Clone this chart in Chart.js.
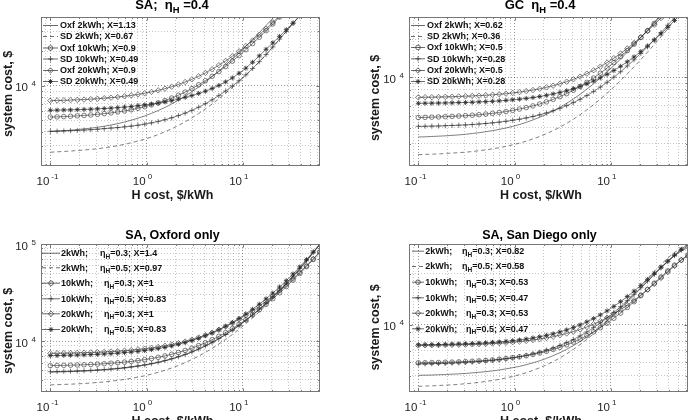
<!DOCTYPE html>
<html><head><meta charset="utf-8">
<script src="https://cdn.jsdelivr.net/npm/chart.js@4.4.1/dist/chart.umd.min.js"></script>
<style>
html,body{margin:0;padding:0;background:#fff;}
#wrap{position:relative;width:694px;height:420px;overflow:hidden;background:#fff;}
canvas{position:absolute;}
</style></head><body>
<div id="wrap">
<canvas id="c1" width="347" height="210" style="left:0;top:0"></canvas>
<canvas id="c2" width="347" height="210" style="left:347px;top:0"></canvas>
<canvas id="c3" width="347" height="210" style="left:0;top:210px"></canvas>
<canvas id="c4" width="347" height="210" style="left:347px;top:210px"></canvas>
</div>
<script>
// ---------- data ----------
const hCost = [0.1,0.1175,0.138,0.162,0.1905,0.224,0.263,0.309,0.363,0.427,0.501,0.589,0.692,0.813,0.955,1.122,1.318,1.549,1.82,2.138,2.512,2.951,3.467,4.074,4.786,5.623,6.607,7.762,9.12,10.72,12.59,14.79,17.38,20.42,23.99,28.18,33.11,38.9,45.71,53.7,63.1];

// Panel 1: SA; eta_H = 0.4
const sa_oxf2kwh = [4000,4030,4070,4110,4160,4220,4280,4360,4450,4560,4690,4840,5020,5230,5470,5760,6100,6490,6960,7510,8150,8910,9790,10840,12060,13500,15190,17180,19520,22270,25490,29270,33720,38950,45090];
const sa_sd2kwh = [2640,2660,2680,2700,2730,2760,2790,2830,2880,2940,3010,3090,3190,3300,3430,3580,3760,3980,4220,4520,4860,5270,5740,6300,6950,7720,8630,9690,10940,12410,14130,16200,18700,21800,25500,29900,35100,41100];
const sa_oxf10kwh = [5350,5370,5400,5440,5480,5530,5580,5650,5730,5820,5930,6050,6200,6380,6590,6830,7110,7450,7840,8300,8840,9480,10230,11110,12140,13350,14780,16460,18420,20740,23460,26650,30400,34810,39990,46060];
const sa_sd10kwh = [4020,4030,4050,4070,4090,4120,4150,4190,4240,4290,4330,4390,4460,4540,4640,4760,4900,5070,5270,5510,5790,6120,6520,7000,7560,8230,9030,9980,11100,12500,14200,16300,18800,21900,25600,30000,35200,41300];
const sa_oxf20kwh = [7440,7470,7490,7530,7570,7610,7670,7730,7810,7900,8000,8130,8270,8440,8640,8870,9150,9470,9850,10290,10820,11430,12150,13000,14000,15170,16550,18170,20070,22310,24930,28010,31630,35890,40890];
const sa_sd20kwh = [6130,6150,6170,6180,6210,6240,6270,6310,6350,6400,6470,6540,6620,6730,6840,6950,7080,7250,7440,7680,7950,8250,8600,9000,9500,10100,10850,11750,12900,14300,16100,18300,20900,23800,27100,31000,35400,40600,46500];

// Panel 2: GC eta_H = 0.4
const gc_oxf2kwh = [3390,3400,3420,3440,3460,3490,3520,3560,3610,3660,3730,3800,3890,3990,4110,4250,4420,4620,4850,5120,5440,5810,6250,6760,7370,8080,8920,9900,11050,12410,14000,15870,18070,20660,23690,27250,31440];
const gc_sd2kwh = [2460,2470,2480,2490,2510,2530,2550,2570,2600,2640,2680,2730,2790,2860,2940,3030,3140,3270,3420,3600,3810,4050,4340,4680,5080,5550,6100,6750,7510,8400,9450,10680,12130,13840,15830,18180,20940,24180,28000,32470];
const gc_oxf10kwh = [4830,4840,4860,4880,4900,4930,4960,4990,5030,5080,5140,5210,5290,5380,5500,5630,5780,5960,6170,6420,6710,7050,7450,7930,8480,9140,9900,10800,11860,13110,14570,16290,18310,20680,23460,26730,30580];
const gc_sd10kwh = [4110,4120,4130,4140,4160,4180,4200,4220,4250,4290,4330,4380,4440,4510,4590,4680,4790,4920,5070,5250,5460,5700,5990,6330,6730,7200,7750,8400,9160,10050,11100,12330,13780,15490,17480,19830,22590,25830,29650,34120];
const gc_oxf20kwh = [6970,6980,6990,7010,7030,7050,7080,7110,7150,7190,7240,7300,7370,7450,7550,7660,7800,7950,8140,8350,8610,8910,9260,9670,10150,10720,11390,12180,13100,14190,15460,16960,18720,20790,23210,26060,29420,33350];
const gc_sd20kwh = [6250,6260,6270,6280,6290,6310,6330,6350,6370,6410,6440,6480,6530,6590,6660,6740,6830,6940,7070,7230,7410,7620,7860,8160,8500,8900,9370,9930,10580,11350,12240,13300,14540,16000,17720,19730,22090,24870,28140,31980];

// Panel 3: SA, Oxford only
const oxf_2kwh_eta03 = [4800,4820,4840,4860,4890,4920,4960,5010,5060,5130,5200,5290,5400,5520,5660,5830,6030,6270,6550,6880,7260,7720,8260,8910,9670,10580,11660,12950,14490,16350,18570,21260,24530,28500,33350,39310,46690,55860,67330,81760,99500];
const oxf_2kwh_eta05 = [3550,3570,3590,3610,3640,3670,3710,3760,3810,3880,3950,4040,4150,4270,4410,4580,4780,5020,5300,5630,6020,6480,7020,7670,8430,9340,10430,11720,13280,15150,17390,20100,23400,27410,32330,38380,45880,55220,66920,81660,99000];
const oxf_10kwh_eta03 = [5600,5620,5640,5660,5690,5720,5760,5810,5860,5930,6000,6090,6190,6320,6460,6630,6820,7060,7330,7650,8030,8480,9010,9630,10370,11230,12260,13470,14910,16620,18650,21060,23940,27380,31500,36460,42450,49700,58520,69290,82530];
const oxf_10kwh_eta05 = [4850,4870,4890,4910,4940,4970,5010,5060,5110,5180,5250,5340,5450,5570,5710,5880,6080,6320,6600,6930,7310,7770,8310,8960,9720,10630,11710,13000,14540,16400,18620,21310,24580,28550,33400,39360,46740,55910,67380,81810,100000];
const oxf_20kwh_eta03 = [7500,7520,7540,7560,7590,7620,7660,7710,7760,7830,7900,7990,8090,8220,8360,8530,8720,8960,9230,9550,9930,10380,10910,11530,12260,13120,14150,15360,16790,18490,20500,22890,25750,29150,33230,38120,44020,51150,59800,70330,83240];
const oxf_20kwh_eta05 = [7110,7120,7150,7170,7200,7240,7280,7330,7380,7450,7530,7620,7730,7860,8010,8190,8400,8640,8930,9280,9680,10160,10720,11390,12180,13120,14230,15560,17140,19030,21290,24010,27290,31260,36080,41960,49180,58080,69120,82880,99800];

// Panel 4: SA, San Diego only
const sd_2kwh_eta03 = [5020,5030,5040,5060,5070,5100,5120,5150,5190,5230,5280,5330,5400,5480,5570,5670,5800,5950,6120,6320,6560,6830,7150,7530,7960,8470,9060,9730,10520,11420,12440,13610,14930,16410,18040,19800,21690,23630,25550,27280,28610];
const sd_2kwh_eta05 = [4320,4340,4350,4370,4390,4410,4440,4480,4510,4560,4620,4680,4750,4840,4940,5060,5200,5370,5560,5790,6050,6360,6720,7140,7630,8190,8850,9600,10480,11480,12620,13910,15370,16990,18770,20690,22720,24770,26760,28450,29610];
const sd_10kwh_eta03 = [5950,5960,5970,5980,6000,6010,6030,6050,6080,6110,6150,6190,6250,6310,6380,6460,6550,6670,6800,6960,7140,7350,7600,7890,8220,8620,9070,9600,10210,10920,11720,12640,13680,14860,16170,17610,19170,20810,22490,24100,25510];
const sd_10kwh_eta05 = [5860,5870,5880,5900,5910,5930,5960,5990,6020,6060,6100,6150,6210,6290,6370,6470,6590,6720,6880,7070,7280,7540,7840,8180,8590,9060,9610,10240,10970,11820,12780,13880,15130,16540,18110,19830,21690,23640,25640,27550,29210];
const sd_20kwh_eta03 = [7540,7550,7560,7570,7580,7590,7610,7620,7650,7670,7700,7740,7780,7820,7880,7950,8020,8120,8220,8350,8490,8670,8870,9100,9380,9700,10070,10500,11010,11590,12270,13050,13940,14960,16120,17430,18890,20500,22250,24110,26010];
const sd_20kwh_eta05 = [7600,7610,7620,7630,7650,7670,7690,7710,7740,7770,7810,7860,7910,7970,8050,8130,8230,8350,8490,8650,8840,9060,9320,9630,9980,10390,10870,11430,12070,12820,13680,14670,15800,17080,18520,20120,21900,23810,25850,27920,29930];

// legend texts
const legendSA = ['Oxf 2kWh; X=1.13','SD 2kWh; X=0.67','Oxf 10kWh; X=0.9','SD 10kWh; X=0.49','Oxf 20kWh; X=0.9','SD 20kWh; X=0.49'];
const legendGC = ['Oxf 2kWh; X=0.62','SD 2kWh; X=0.36','Oxf 10kWh; X=0.5','SD 10kWh; X=0.28','Oxf 20kWh; X=0.5','SD 20kWh; X=0.28'];
const storageLabels = ['2kWh;','2kWh;','10kWh;','10kWh;','20kWh;','20kWh;'];
const etaLabels = ['0.3','0.5','0.3','0.5','0.3','0.5'];
const xOxfLabels = ['1.4','0.97','1','0.83','1','0.83'];
const xSDLabels = ['0.82','0.58','0.53','0.47','0.53','0.47'];

// axis ticks
const xGrid = [0.09,0.1,0.2,0.3,0.4,0.5,0.6,0.7,0.8,0.9,1,2,3,4,5,6,7,8,9,10,20,30,40,50,60];
const xDecades = [0.1,1,10];
const xDecadeExp = ['-1','0','1'];
const yGridSA = [3000,4000,5000,6000,7000,8000,9000,10000,20000,30000];
const yGridGC = [3000,4000,5000,6000,7000,8000,9000,10000,20000];
const yGridOxf = [4000,5000,6000,7000,8000,9000,10000,20000,30000,40000,50000,60000,70000,80000,90000];
const yGridSD = [5000,6000,7000,8000,9000,10000,20000];

const xLabel = 'H cost, $/kWh';
const yLabel = 'system cost, $';

// ---------- drawing helpers ----------
const FONT = '"Liberation Sans", Arial, Helvetica, sans-serif';
const kinds = ['solid','dashed','circle','plus','diamond','star'];
const INK = '#2b2b2b';
function isDecade(v){ const l = Math.log10(v); return Math.abs(l-Math.round(l))<1e-6; }

function styleFor(kind){
  const base = {borderColor:INK, borderWidth:0.6, pointBorderColor:INK,
    pointBackgroundColor:'rgba(0,0,0,0)', pointBorderWidth:0.6, pointRadius:0,
    pointHoverRadius:0, tension:0, fill:false, clip:0};
  if (kind==='dashed') return Object.assign(base,{borderDash:[4,3]});
  if (kind==='circle') return Object.assign(base,{pointStyle:'circle',pointRadius:2.3});
  if (kind==='plus') return Object.assign(base,{pointStyle:'cross',pointRadius:2.6});
  if (kind==='diamond') return Object.assign(base,{pointStyle:'rectRot',pointRadius:2.7});
  if (kind==='star') return Object.assign(base,{pointStyle:'star',pointRadius:2.5,pointBorderWidth:0.8});
  return base;
}

function drawMarker(ctx, kind, x, y){
  ctx.beginPath();
  if (kind==='circle'){ ctx.arc(x,y,2.3,0,Math.PI*2); }
  else if (kind==='plus'){ ctx.moveTo(x-2.6,y); ctx.lineTo(x+2.6,y); ctx.moveTo(x,y-2.6); ctx.lineTo(x,y+2.6); }
  else if (kind==='diamond'){ ctx.moveTo(x,y-2.7); ctx.lineTo(x+2.7,y); ctx.lineTo(x,y+2.7); ctx.lineTo(x-2.7,y); ctx.closePath(); }
  else if (kind==='star'){ ctx.moveTo(x-2.5,y); ctx.lineTo(x+2.5,y); ctx.moveTo(x,y-2.5); ctx.lineTo(x,y+2.5);
    const d=1.8; ctx.moveTo(x-d,y-d); ctx.lineTo(x+d,y+d); ctx.moveTo(x-d,y+d); ctx.lineTo(x+d,y-d); }
  else return;
  ctx.stroke();
}

// parts: [[text, isSub], ...]
function drawRich(ctx, x, y, parts, size, bold, align){
  const fonts = parts.map(p => (bold?'bold ':'') + (p[1]? Math.round(size*0.72*10)/10 : size) + 'px ' + FONT);
  let w = 0;
  parts.forEach((p,i)=>{ ctx.font = fonts[i]; w += ctx.measureText(p[0]).width; });
  let cx = align==='center' ? x - w/2 : (align==='right' ? x - w : x);
  ctx.textAlign = 'left'; ctx.textBaseline = 'alphabetic';
  parts.forEach((p,i)=>{ ctx.font = fonts[i]; ctx.fillText(p[0], cx, y + (p[1]? size*0.32 : 0)); cx += ctx.measureText(p[0]).width; });
}

const deco = {
  id:'deco',
  afterDraw(chart, args, o){
    const ctx = chart.ctx, a = chart.chartArea, xs = chart.scales.x, ys = chart.scales.y;
    ctx.save();
    // inner ticks
    ctx.strokeStyle = '#555'; ctx.lineWidth = 0.8;
    ctx.beginPath();
    xGrid.forEach(v => { const px = Math.round(xs.getPixelForValue(v))+0.5; const L = isDecade(v)?3.5:2;
      ctx.moveTo(px,a.bottom); ctx.lineTo(px,a.bottom-L); ctx.moveTo(px,a.top); ctx.lineTo(px,a.top+L); });
    o.yGrid.forEach(v => { const py = Math.round(ys.getPixelForValue(v))+0.5; const L = isDecade(v)?3.5:2;
      ctx.moveTo(a.left,py); ctx.lineTo(a.left+L,py); ctx.moveTo(a.right,py); ctx.lineTo(a.right-L,py); });
    ctx.stroke();
    // frame
    ctx.strokeStyle = '#777'; ctx.lineWidth = 1;
    ctx.strokeRect(a.left+0.5, a.top+0.5, a.right-a.left-1, a.bottom-a.top-1);
    // x tick labels
    ctx.fillStyle = '#262626'; ctx.textBaseline = 'alphabetic';
    xDecades.forEach((v,i) => { const px = xs.getPixelForValue(v);
      ctx.font = '11.5px '+FONT; ctx.textAlign = 'right'; ctx.fillText('10', px-1, a.bottom+19);
      ctx.font = '8px '+FONT; ctx.textAlign = 'left'; ctx.fillText(xDecadeExp[i], px+1, a.bottom+12.5); });
    // y tick labels
    o.yDecades.forEach((v,i) => { const py = ys.getPixelForValue(v);
      ctx.font = '11.5px '+FONT; ctx.textAlign = 'right'; ctx.fillText('10', a.left-13, py+5.5);
      ctx.font = '8px '+FONT; ctx.textAlign = 'left'; ctx.fillText(o.yExp[i], a.left-9.5, py+0.5); });
    // axis titles
    ctx.fillStyle = '#1a1a1a';
    ctx.font = 'bold 12.5px '+FONT; ctx.textAlign = 'center';
    ctx.fillText(xLabel, o.xlab[0], o.xlab[1]);
    ctx.save(); ctx.translate(o.ylab[0], o.ylab[1]); ctx.rotate(-Math.PI/2);
    ctx.textBaseline = 'middle'; ctx.fillText(yLabel, 0, 0); ctx.restore();
    // title
    ctx.fillStyle = '#000';
    drawRich(ctx, o.title[0], o.title[1], o.titleParts, o.titleSize, true, 'center');
    // legend
    const lg = o.legend;
    lg.ys.forEach((y,i) => {
      const kind = kinds[i];
      ctx.save();
      ctx.strokeStyle = INK; ctx.lineWidth = 0.7;
      if (kind==='dashed') ctx.setLineDash([4,3]);
      ctx.beginPath(); ctx.moveTo(lg.x0,y+0.5); ctx.lineTo(lg.x1,y+0.5); ctx.stroke();
      ctx.setLineDash([]);
      ctx.lineWidth = kind==='star'?0.9:0.7;
      drawMarker(ctx, kind, (lg.x0+lg.x1)/2, y+0.5);
      ctx.restore();
      ctx.fillStyle = '#111';
      ctx.font = 'bold 9px '+FONT; ctx.textAlign='left'; ctx.textBaseline='alphabetic';
      if (lg.plain){
        ctx.fillText(lg.plain[i], lg.tx, y+3.3);
      } else {
        ctx.fillText(storageLabels[i], lg.tx, y+3.3);
        drawRich(ctx, lg.etaX[i], y+3.3, [['η',false],['H',true],['='+etaLabels[i]+'; X='+lg.xl[i],false]], 9, true, 'left');
      }
    });
    ctx.restore();
  }
};

const panels = [
  {id:'c1', pad:{left:41,top:17,right:27,bottom:44}, yMin:2000, yMax:40000, yGrid:yGridSA, yDecades:[10000], yExp:['4'],
   series:[sa_oxf2kwh,sa_sd2kwh,sa_oxf10kwh,sa_sd10kwh,sa_oxf20kwh,sa_sd20kwh],
   title:[172,8.5], titleSize:13, titleParts:[['SA;  ',false],['η',false],['H',true],[' =0.4',false]],
   ylab:[8.5,94], xlab:[172.5,199],
   legend:{x0:43,x1:58,tx:60,ys:[25,36,47.5,58.5,70,81],plain:legendSA}},
  {id:'c2', pad:{left:62,top:17,right:6,bottom:44}, yMin:2000, yMax:30000, yGrid:yGridGC, yDecades:[10000], yExp:['4'],
   series:[gc_oxf2kwh,gc_sd2kwh,gc_oxf10kwh,gc_sd10kwh,gc_oxf20kwh,gc_sd20kwh],
   title:[193,8.5], titleSize:13, titleParts:[['GC  ',false],['η',false],['H',true],[' =0.4',false]],
   ylab:[29,98], xlab:[194,199],
   legend:{x0:64,x1:78,tx:80,ys:[25,36,47,58.3,70,81],plain:legendGC}},
  {id:'c3', pad:{left:41,top:34,right:27,bottom:28}, yMin:3000, yMax:100000, yGrid:yGridOxf, yDecades:[10000,100000], yExp:['4','5'],
   series:[oxf_2kwh_eta03,oxf_2kwh_eta05,oxf_10kwh_eta03,oxf_10kwh_eta05,oxf_20kwh_eta03,oxf_20kwh_eta05],
   title:[172.5,29.3], titleSize:12.5, titleParts:[['SA, Oxford only',false]],
   ylab:[8.5,121], xlab:[172.5,214.5],
   legend:{x0:42,x1:60,tx:61,ys:[42.7,57.3,72.7,88.3,103.3,119],etaX:[100,100,104,104,104,104],xl:xOxfLabels}},
  {id:'c4', pad:{left:62,top:34,right:6,bottom:28}, yMin:4000, yMax:30000, yGrid:yGridSD, yDecades:[10000], yExp:['4'],
   series:[sd_2kwh_eta03,sd_2kwh_eta05,sd_10kwh_eta03,sd_10kwh_eta05,sd_20kwh_eta03,sd_20kwh_eta05],
   title:[192.5,29], titleSize:12.5, titleParts:[['SA, San Diego only',false]],
   ylab:[29,117.5], xlab:[194,214.5],
   legend:{x0:65,x1:77,tx:78.3,ys:[40.7,56,71.7,87.3,102.7,118.3],etaX:[115,115,119,119,119,119],xl:xSDLabels}}
];

panels.forEach(p => {
  const datasets = p.series.map((ys,i) => Object.assign({
    data: ys.map((v,j) => ({x: hCost[j], y: v}))
  }, styleFor(kinds[i])));
  const gridColor = c => (c.tick && isDecade(c.tick.value)) ? 'rgba(0,0,0,0.42)' : 'rgba(0,0,0,0.22)';
  new Chart(document.getElementById(p.id), {
    type:'line',
    data:{datasets},
    options:{
      responsive:false, animation:false, devicePixelRatio:1,
      layout:{padding:p.pad},
      plugins:{legend:{display:false}, title:{display:false}, tooltip:{enabled:false},
        deco:{yGrid:p.yGrid, yDecades:p.yDecades, yExp:p.yExp, title:p.title, titleSize:p.titleSize, titleParts:p.titleParts,
              ylab:p.ylab, xlab:p.xlab, legend:p.legend}},
      events:[],
      scales:{
        x:{type:'logarithmic', min:0.08, max:63.1,
           afterBuildTicks: s => { s.ticks = xGrid.map(v => ({value:v})); },
           afterFit: s => { s.height = 0; },
           ticks:{display:false}, grid:{drawTicks:false, color:gridColor, lineWidth:1},
           border:{display:false, dash:[1,2]}},
        y:{type:'logarithmic', min:p.yMin, max:p.yMax,
           afterBuildTicks: s => { s.ticks = p.yGrid.map(v => ({value:v})); },
           afterFit: s => { s.width = 0; },
           ticks:{display:false}, grid:{drawTicks:false, color:gridColor, lineWidth:1},
           border:{display:false, dash:[1,2]}}
      }
    },
    plugins:[deco]
  });
});
</script>
</body></html>
